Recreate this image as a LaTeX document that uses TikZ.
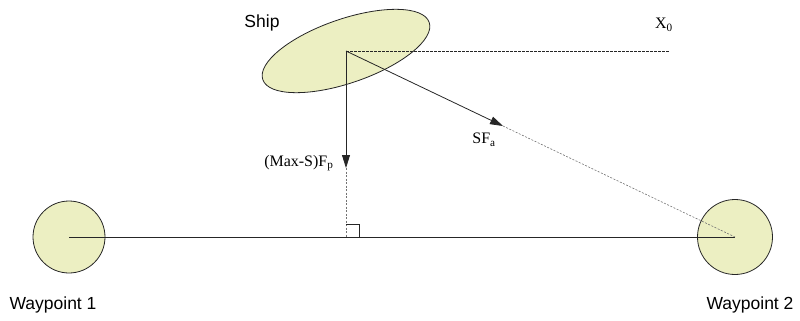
\documentclass[tikz,border=0pt]{standalone}
\usepackage{fontspec}
\setmainfont{Liberation Serif}
\setsansfont{Liberation Sans}
\usetikzlibrary{shapes.geometric,arrows.meta}
\definecolor{padfill}{RGB}{236,239,194}
\tikzset{
  body/.style={draw=black!85, line width=0.8pt, fill=padfill, inner sep=0pt},
  solidline/.style={line width=0.8pt, black!85},
  thinline/.style={line width=0.6pt, black!85, dash pattern=on 2.5pt off 1.5pt},
  faintline/.style={line width=0.6pt, black!55, dash pattern=on 2pt off 1.5pt},
  vec/.style={solidline, -{Triangle[length=13pt,width=8pt]}},
  sanslabel/.style={font=\sffamily\fontsize{17.5}{20}\selectfont},
  seriflabel/.style={font=\fontsize{16}{18}\selectfont}
}
\begin{document}
\begin{tikzpicture}[x=1pt,y=-1pt]
\useasboundingbox (0,0) rectangle (800,321);
% bodies
\node[body, ellipse, minimum width=176pt, minimum height=64pt, rotate=19] (ship) at (346,51) {};
\node[body, circle, minimum size=72pt] (wp1) at (69,237) {};
\node[body, circle, minimum size=75pt] (wp2) at (735,237) {};
% named points
\coordinate (xend) at (670,51);
\coordinate (ptip) at (346,168);
\coordinate (foot) at (346,237);
\coordinate (atip) at (503,126);
% connectors
\draw[solidline] (wp1.center) -- (wp2.center);
\draw[thinline] (ship.center) -- (xend);
\draw[faintline] (atip) -- (wp2.center);
\draw[faintline] (ptip) -- (foot);
\draw[vec] (ship.center) -- (ptip);
\draw[vec] (ship.center) -- (atip);
% right angle mark
\draw[line width=0.6pt, black!85] ([yshift=13pt]foot) -| ([xshift=13pt]foot);
% labels
\node[sanslabel] (shiplbl) at (262,23) {Ship};
\node[seriflabel] (xlbl) at (664,25) {X\textsubscript{0}};
\node[seriflabel] (alb) at (484,140) {SF\textsubscript{a}};
\node[seriflabel, anchor=east] (plb) at (337,163) {(Max-S)F\textsubscript{p}};
\node[sanslabel] (w1lbl) at (53,305) {Waypoint 1};
\node[sanslabel] (w2lbl) at (750,305) {Waypoint 2};
\end{tikzpicture}
\end{document}
